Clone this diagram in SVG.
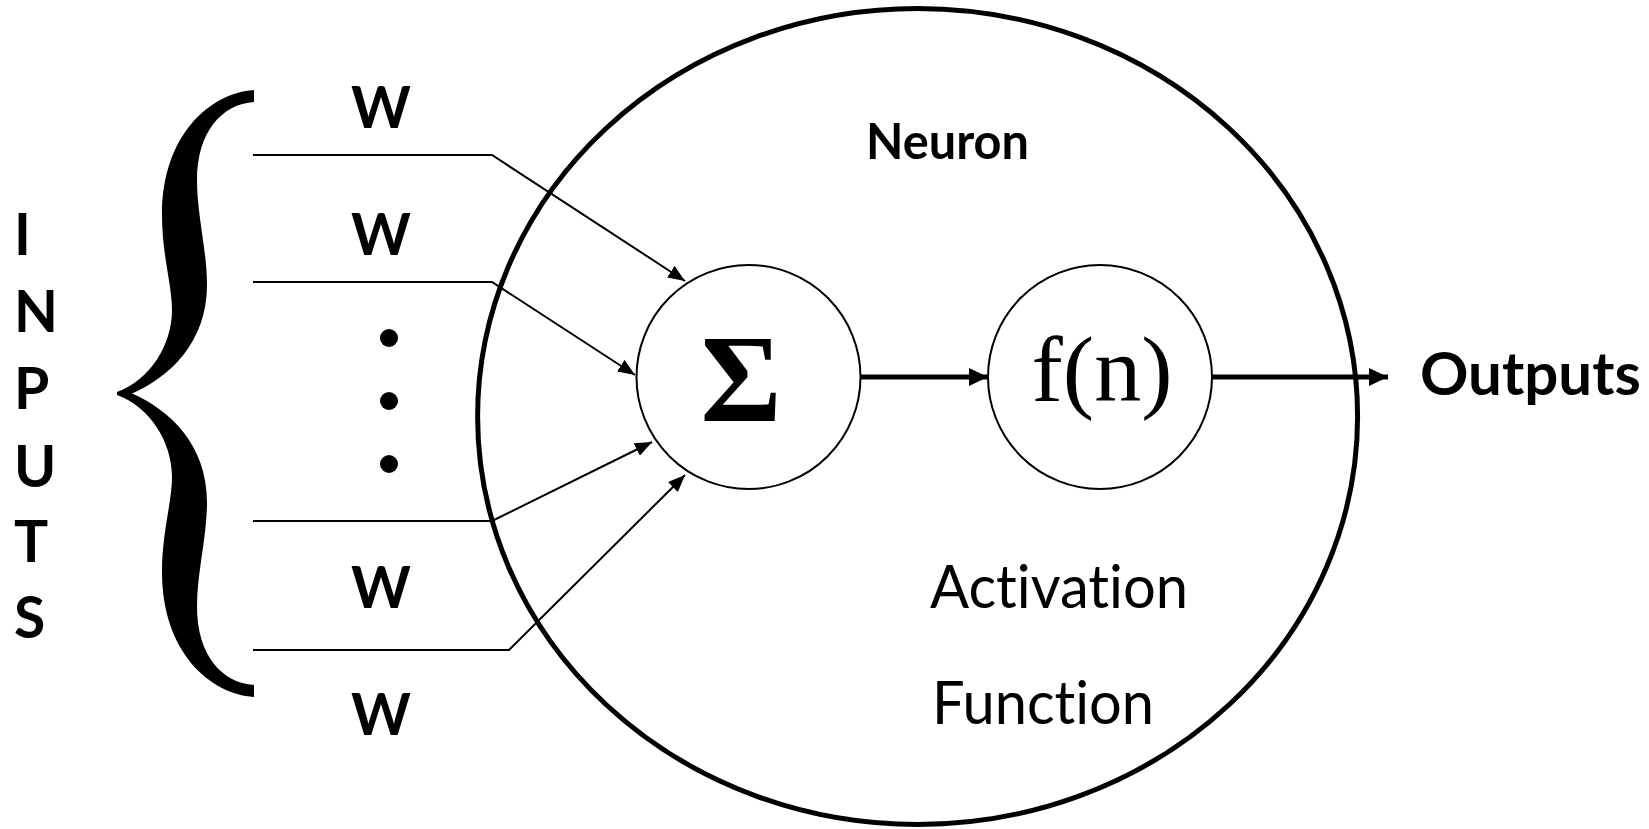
<svg xmlns="http://www.w3.org/2000/svg" width="1649" height="829" viewBox="0 0 1649 829">
<style>
text{font-variant-ligatures:none}
.lbl{font-family:Lato,"Open Sans",sans-serif;font-weight:bold;fill:#000}
.reg{font-family:Lato,"Open Sans",sans-serif;font-weight:normal;fill:#000}
.thin{fill:none;stroke:#000;stroke-width:2;marker-end:url(#ah)}
.thick{fill:none;stroke:#000;stroke-width:5;marker-end:url(#ahb)}
.node{fill:#fff;stroke:#000;stroke-width:2}
</style>
<defs>
<marker id="ah" markerUnits="userSpaceOnUse" markerWidth="18" markerHeight="14" refX="17" refY="7" orient="auto"><path d="M0,0 L17,7 L0,14 Z" fill="#000"/></marker>
<marker id="ahb" markerUnits="userSpaceOnUse" markerWidth="20" markerHeight="18" refX="19" refY="9" orient="auto"><path d="M0,0 L19,9 L0,18 Z" fill="#000"/></marker>
</defs>
<rect width="1649" height="829" fill="#fff"/>
<g id="neuron">
<ellipse cx="917.6" cy="416.5" rx="440" ry="408" fill="none" stroke="#000" stroke-width="5"/>
<text class="lbl" x="866" y="159" font-size="50" textLength="163" lengthAdjust="spacingAndGlyphs">Neuron</text>
<text class="reg" x="930" y="608" font-size="60" textLength="258" lengthAdjust="spacingAndGlyphs">Activation</text>
<text class="reg" x="932" y="724" font-size="60" textLength="222" lengthAdjust="spacingAndGlyphs">Function</text>
</g>
<g id="inputs">
<path d="M254,90 C210,93 162,135 162,215 C162,255 172,285 172,310 C172,345 150,380 117,392 L117,395 C150,407 172,442 172,477 C172,502 162,532 162,572 C162,652 210,694 254,697 L254,685 C222,683 197,655 197,607 C197,572 207,537 207,502 C207,445 170,410 132,393.5 C170,377 207,342 207,285 C207,250 197,215 197,180 C197,132 222,104 254,102 Z" fill="#000"/>
<g class="lbl" font-size="57">
<text x="14" y="255">I</text>
<text x="14" y="332">N</text>
<text x="14" y="409">P</text>
<text x="14" y="487">U</text>
<text x="14" y="562">T</text>
<text x="14" y="638">S</text>
</g>
</g>
<g id="weights" class="lbl" font-size="57" text-anchor="middle">
<text x="381" y="128">W</text>
<text x="381" y="255">W</text>
<text x="381" y="608">W</text>
<text x="381" y="735">W</text>
</g>
<g id="dots">
<circle cx="389" cy="338" r="9"/>
<circle cx="389" cy="401" r="9"/>
<circle cx="389" cy="464" r="9"/>
</g>
<g id="connectors">
<polyline class="thin" points="253,155 492,155 685,281"/>
<polyline class="thin" points="253,282 492,282 635,375"/>
<polyline class="thin" points="253,521 492,521 652,442"/>
<polyline class="thin" points="253,650 509,650 685,475"/>
<line class="thick" x1="861" y1="377" x2="988" y2="377"/>
<line class="thick" x1="1212" y1="377" x2="1388" y2="377"/>
</g>
<g id="sum">
<circle class="node" cx="748.5" cy="377" r="112"/>
<text x="741" y="421" font-family="'Liberation Serif',serif" font-weight="bold" font-size="124" text-anchor="middle">Σ</text>
</g>
<g id="activation">
<circle class="node" cx="1100" cy="377" r="112"/>
<text x="1102" y="401" font-family="'Liberation Serif',serif" font-size="94" text-anchor="middle">f(n)</text>
</g>
<g id="outputs">
<text class="lbl" x="1420" y="395" font-size="60">Outputs</text>
</g>
</svg>
